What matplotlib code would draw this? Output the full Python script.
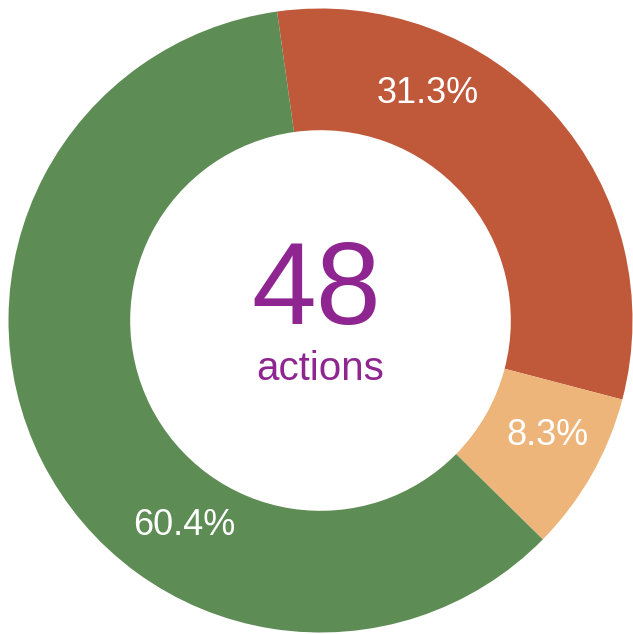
import matplotlib
matplotlib.use('Agg')
import matplotlib.pyplot as plt

# donut of action outcomes
shares = [31.3, 8.3, 60.4]
share_labels = ['31.3%', '8.3%', '60.4%']
total = 48
center_label = 'actions'
colors = ['#C0583A', '#EDB57A', '#5E8C55']

plt.rcParams['font.family'] = ['Liberation Sans', 'DejaVu Sans']

fig = plt.figure(figsize=(6.33, 6.34), dpi=100)
ax = fig.add_axes([8.5 / 633, 1.5 / 634, 624 / 633, 624 / 634])

ax.pie(shares, colors=colors, startangle=98, counterclock=False,
       radius=1, wedgeprops=dict(width=0.39, linewidth=0))

# label spots
label_xy = [(0.345, 0.726), (0.728, -0.370), (-0.436, -0.657)]
for txt, (x, y) in zip(share_labels, label_xy):
    ax.text(x, y, txt, color='white', fontsize=26, ha='center', va='center')

ax.text(-0.013, -0.012, str(total), color='#8E2590',
        fontsize=84, ha='center', va='baseline')
ax.text(0, -0.19, center_label, color='#8E2590',
        fontsize=29, ha='center', va='baseline')

ax.set_xlim(-1, 1)
ax.set_ylim(-1, 1)
ax.set_aspect('equal')
ax.axis('off')

plt.savefig('out.png', dpi=100)
